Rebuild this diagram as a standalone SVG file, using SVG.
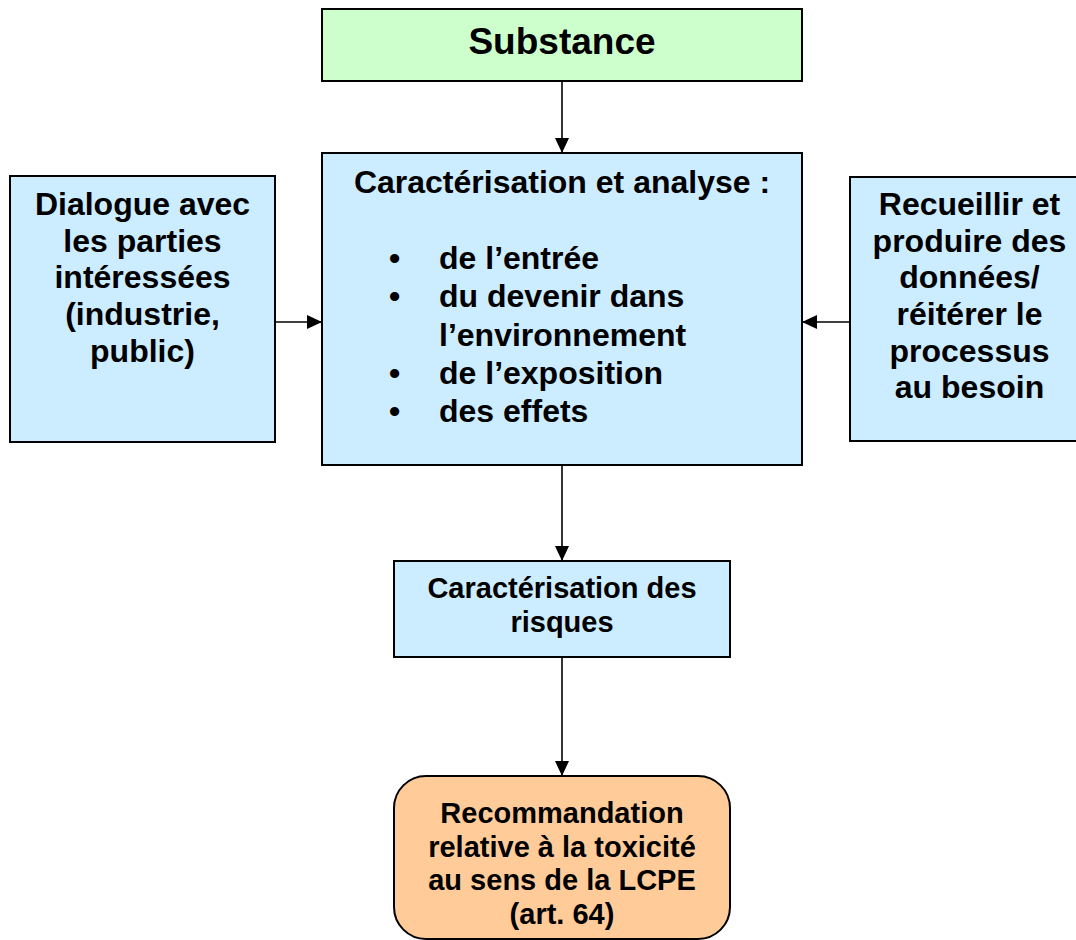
<svg xmlns="http://www.w3.org/2000/svg" width="1076" height="940" viewBox="0 0 1076 940">
<style>
.box{stroke:#000;stroke-width:2}
.blue{fill:#CCECFF}
.green{fill:#CCFFCC}
.orange{fill:#FFCC99}
text{font-family:"Liberation Sans",Arial,sans-serif;font-weight:bold;fill:#000}
.c{text-anchor:middle}
.f32{font-size:32px}
.f29{font-size:29px}
.f37{font-size:37px}
.conn{stroke:#000;stroke-width:1.6;fill:none}
</style>
<defs>
<marker id="ah" markerUnits="userSpaceOnUse" markerWidth="15" markerHeight="14" refX="15" refY="7" orient="auto">
<path d="M0,0 L15,7 L0,14 z" fill="#000"/>
</marker>
</defs>
<rect width="1076" height="940" fill="#fff"/>
<g id="connectors">
<line class="conn" x1="562" y1="81" x2="562" y2="153" marker-end="url(#ah)"/>
<line class="conn" x1="275" y1="322" x2="322" y2="322" marker-end="url(#ah)"/>
<line class="conn" x1="850" y1="322" x2="802" y2="322" marker-end="url(#ah)"/>
<line class="conn" x1="562" y1="465" x2="562" y2="561" marker-end="url(#ah)"/>
<line class="conn" x1="562" y1="657" x2="562" y2="776" marker-end="url(#ah)"/>
</g>
<g id="substance">
<rect class="box green" x="322" y="9" width="480" height="72"/>
<text class="c f37" x="562" y="54">Substance</text>
</g>
<g id="analyse">
<rect class="box blue" x="322" y="153" width="480" height="312"/>
<text class="c f32" x="562" y="193">Caractérisation et analyse :</text>
<text class="f32"><tspan x="389" y="269">•</tspan><tspan x="389" y="307">•</tspan><tspan x="389" y="383.5">•</tspan><tspan x="389" y="421.5">•</tspan></text>
<text class="f32"><tspan x="439" y="269">de l’entrée</tspan><tspan x="439" y="307">du devenir dans</tspan><tspan x="439" y="345.5">l’environnement</tspan><tspan x="439" y="383.5">de l’exposition</tspan><tspan x="439" y="421.5">des effets</tspan></text>
</g>
<g id="dialogue">
<rect class="box blue" x="10" y="176" width="265" height="266"/>
<text class="c f32"><tspan x="142.5" y="215">Dialogue avec</tspan><tspan x="142.5" y="251.7">les parties</tspan><tspan x="142.5" y="288.3">intéressées</tspan><tspan x="142.5" y="325">(industrie,</tspan><tspan x="142.5" y="361.7">public)</tspan></text>
</g>
<g id="recueillir">
<rect class="box blue" x="850" y="177" width="240" height="264"/>
<text class="c f32"><tspan x="969.5" y="215">Recueillir et</tspan><tspan x="969.5" y="251.7">produire des</tspan><tspan x="969.5" y="288.3">données/</tspan><tspan x="969.5" y="325">réitérer le</tspan><tspan x="969.5" y="361.7">processus</tspan><tspan x="969.5" y="398.3">au besoin</tspan></text>
</g>
<g id="risques">
<rect class="box blue" x="394" y="561" width="336" height="96"/>
<text class="c f29"><tspan x="562" y="598">Caractérisation des</tspan><tspan x="562" y="632">risques</tspan></text>
</g>
<g id="recommandation">
<rect class="box orange" x="394" y="776" width="336" height="163" rx="32" ry="32"/>
<text class="c f29"><tspan x="562" y="823">Recommandation</tspan><tspan x="562" y="856.5">relative à la toxicité</tspan><tspan x="562" y="890">au sens de la LCPE</tspan><tspan x="562" y="923.5">(art. 64)</tspan></text>
</g>
</svg>
